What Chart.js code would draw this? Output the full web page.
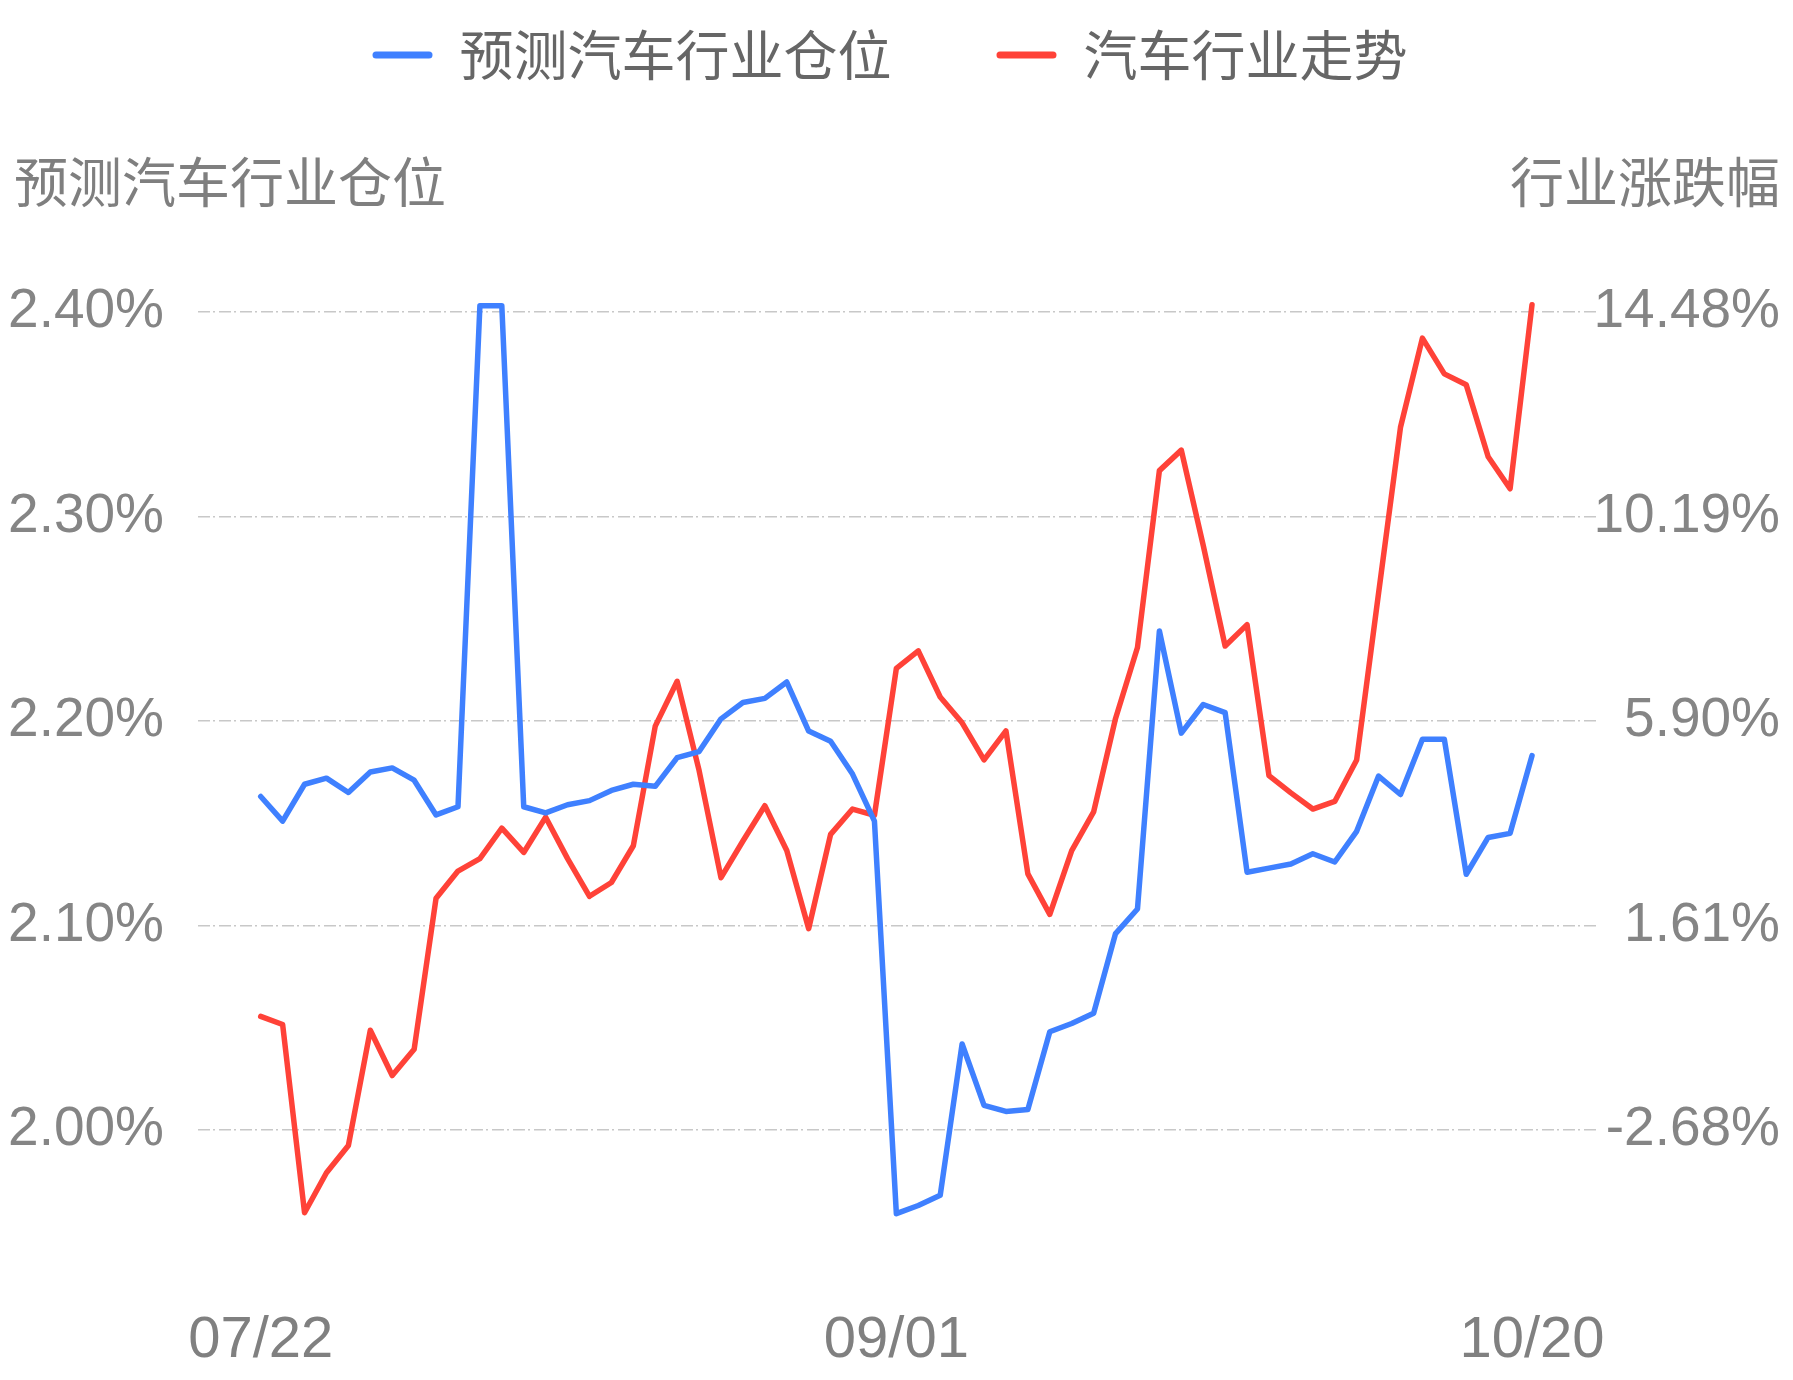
<!DOCTYPE html>
<html>
<head>
<meta charset="utf-8">
<script src="https://cdn.jsdelivr.net/npm/chart.js@4.4.0/dist/chart.umd.min.js"></script>
<style>
  body { margin: 0; background: #fff; }
  canvas { display: block; }
</style>
</head>
<body>
<canvas id="myChart" width="1793" height="1380"></canvas>
<script>
// trading days 2022-07-22 .. 2022-10-20
const dates = [
  '07/22','07/25','07/26','07/27','07/28','07/29',
  '08/01','08/02','08/03','08/04','08/05','08/08','08/09','08/10','08/11','08/12',
  '08/15','08/16','08/17','08/18','08/19','08/22','08/23','08/24','08/25','08/26',
  '08/29','08/30','08/31',
  '09/01','09/02','09/05','09/06','09/07','09/08','09/09','09/13','09/14','09/15','09/16',
  '09/19','09/20','09/21','09/22','09/23','09/26','09/27','09/28','09/29','09/30',
  '10/10','10/11','10/12','10/13','10/14','10/17','10/18','10/19','10/20'
];

// 预测汽车行业仓位 (%), left axis
const position = [
  2.163, 2.151, 2.169, 2.172, 2.165, 2.175, 2.177, 2.171, 2.154, 2.158,
  2.403, 2.403, 2.158, 2.155, 2.159, 2.161, 2.166, 2.169, 2.168, 2.182,
  2.185, 2.201, 2.209, 2.211, 2.219, 2.195, 2.190, 2.174, 2.151, 1.959,
  1.963, 1.968, 2.042, 2.012, 2.009, 2.010, 2.048, 2.052, 2.057, 2.096,
  2.108, 2.244, 2.194, 2.208, 2.204, 2.126, 2.128, 2.130, 2.135, 2.131,
  2.146, 2.173, 2.164, 2.191, 2.191, 2.125, 2.143, 2.145, 2.183
];

// 汽车行业走势 (%), right axis
const trend = [
  -0.30, -0.47, -4.42, -3.58, -3.01, -0.59, -1.54, -0.99, 2.18, 2.75,
  3.01, 3.65, 3.14, 3.88, 3.01, 2.22, 2.51, 3.28, 5.79, 6.73,
  4.86, 2.61, 3.38, 4.12, 3.18, 1.54, 3.52, 4.05, 3.92, 7.00,
  7.37, 6.40, 5.86, 5.08, 5.69, 2.69, 1.84, 3.18, 3.99, 5.95,
  7.44, 11.15, 11.58, 9.58, 7.47, 7.92, 4.75, 4.39, 4.05, 4.21,
  5.08, 8.58, 12.06, 13.93, 13.18, 12.95, 11.44, 10.77, 14.63
];

const leftTicks = [2.00, 2.10, 2.20, 2.30, 2.40];
const rightTicks = [-2.68, 1.61, 5.90, 10.19, 14.48];
const xTickIdx = [0, 29, 58];

const leftTitle = '预测汽车行业仓位';
const rightTitle = '行业涨跌幅';

const cjk = '"Noto Sans CJK SC", "Noto Sans", sans-serif';
const latin = '"Liberation Sans", Arial, sans-serif';

const axisTitles = {
  id: 'axisTitles',
  beforeUpdate(chart) {
    // extra room under the legend for the axis names
    if (chart.legend && !chart.legend._patched) {
      const origFit = chart.legend.fit;
      chart.legend.fit = function() {
        origFit.call(this);
        this.height += 179;
      };
      chart.legend._patched = true;
    }
  },
  afterDraw(chart) {
    const ctx = chart.ctx;
    ctx.save();
    ctx.font = '54px ' + cjk;
    ctx.fillStyle = '#7f7f7f';
    ctx.textBaseline = 'middle';
    ctx.textAlign = 'left';
    ctx.fillText(leftTitle, 14, 182);
    ctx.textAlign = 'right';
    ctx.fillText(rightTitle, 1780, 182);
    ctx.restore();
  }
};

const blue = '#3f80ff';
const red = '#ff4238';

const data = {
  datasets: [
    {
      label: '预测汽车行业仓位',
      data: position.map((v, i) => ({x: i, y: v})),
      yAxisID: 'y',
      borderColor: blue,
      backgroundColor: blue,
      borderWidth: 5.5,
      pointRadius: 0,
      borderJoinStyle: 'round',
      borderCapStyle: 'round',
      tension: 0
    },
    {
      label: '汽车行业走势',
      data: trend.map((v, i) => ({x: i, y: v})),
      yAxisID: 'y1',
      borderColor: red,
      backgroundColor: red,
      borderWidth: 5.5,
      pointRadius: 0,
      borderJoinStyle: 'round',
      borderCapStyle: 'round',
      tension: 0
    }
  ]
};

const config = {
  type: 'line',
  data: data,
  options: {
    responsive: false,
    devicePixelRatio: 1,
    animation: false,
    layout: { padding: { top: -77, left: 0, right: 13, bottom: 0 } },
    plugins: {
      tooltip: { enabled: false },
      legend: {
        position: 'top',
        align: 'center',
        labels: {
          font: { family: cjk, size: 54 },
          color: '#666666',
          boxWidth: 60,
          boxHeight: 7,
          useBorderRadius: true,
          borderRadius: 3.5,
          padding: 105,
          generateLabels(chart) {
            const items = Chart.defaults.plugins.legend.labels.generateLabels(chart);
            return items.map(it => ({...it, lineWidth: 0}));
          }
        }
      }
    },
    scales: {
      x: {
        type: 'linear',
        position: 'bottom',
        min: -2.861,
        max: 60.965,
        grid: { display: false, drawTicks: false },
        border: { display: false },
        afterBuildTicks: axis => { axis.ticks = xTickIdx.map(v => ({value: v})); },
        afterFit: scale => { scale.height = 107; },
        ticks: {
          autoSkip: false,
          maxRotation: 0,
          padding: 33,
          color: '#808080',
          font: { family: latin, size: 58 },
          callback: v => dates[v]
        }
      },
      y: {
        position: 'left',
        min: 1.93,
        max: 2.42,
        grid: { color: '#c8c8c8', lineWidth: 1.5, drawTicks: false },
        border: { display: false, dash: [12, 3, 2, 4] },
        afterBuildTicks: axis => { axis.ticks = leftTicks.map(v => ({value: v})); },
        afterFit: scale => { scale.width = 198; },
        ticks: {
          padding: 34,
          color: '#858585',
          font: { family: latin, size: 55 },
          callback: v => v.toFixed(2) + '%'
        }
      },
      y1: {
        position: 'right',
        min: -5.683,
        max: 15.338,
        grid: { display: false, drawTicks: false },
        border: { display: false },
        afterBuildTicks: axis => { axis.ticks = rightTicks.map(v => ({value: v})); },
        afterFit: scale => { scale.width = 183; },
        ticks: {
          crossAlign: 'far',
          padding: 0,
          color: '#858585',
          font: { family: latin, size: 55 },
          callback: v => v.toFixed(2) + '%'
        }
      }
    }
  },
  plugins: [axisTitles]
};

const myChart = new Chart(document.getElementById('myChart'), config);
</script>
</body>
</html>
